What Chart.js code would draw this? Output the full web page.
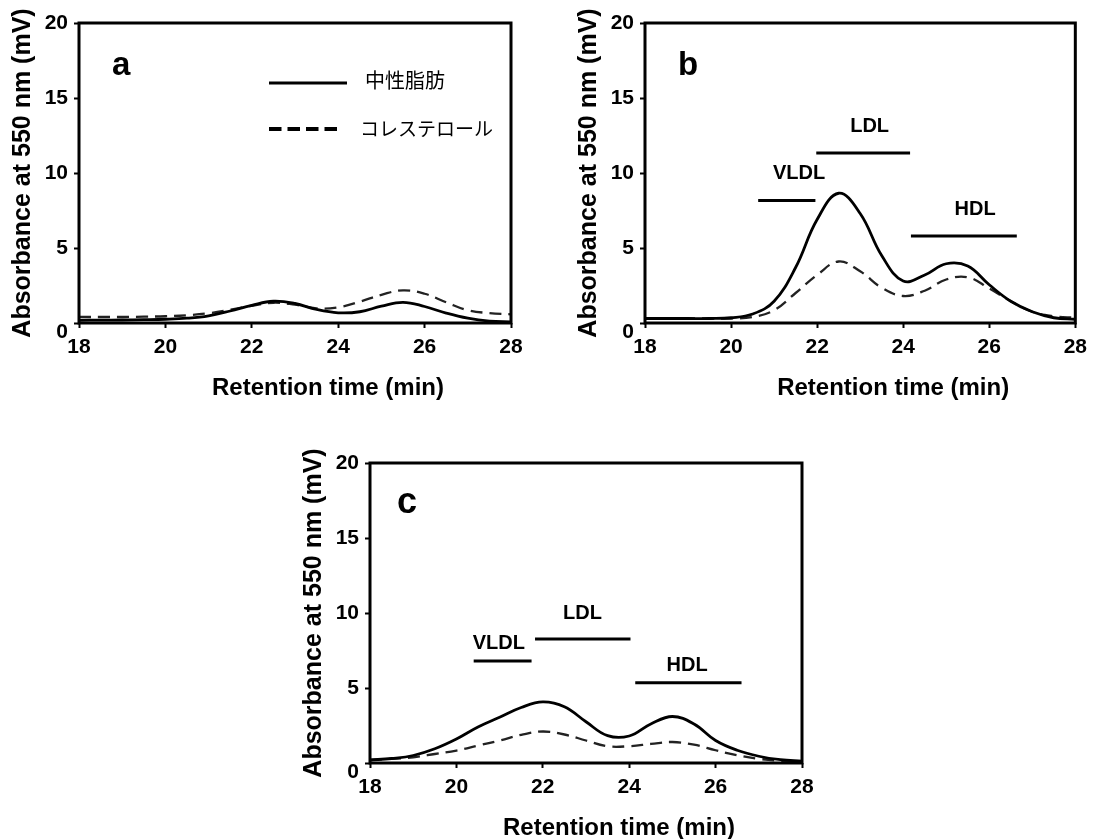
<!DOCTYPE html>
<html>
<head>
	<meta charset="utf-8">
	<title>Retention time chromatograms</title>
	<script src="https://cdn.jsdelivr.net/npm/chart.js@4.4.0/dist/chart.umd.min.js"></script>
	<style>
		html, body { margin: 0; padding: 0; background: #fff; }
		body { width: 1094px; height: 839px; position: relative; overflow: hidden; }
		.panel { position: absolute; }
	</style>
</head>
<body>
	<div class="panel" style="left:0px; top:0px; width:547px; height:420px;"><canvas id="chartA"></canvas></div>
	<div class="panel" style="left:566px; top:0px; width:528px; height:420px;"><canvas id="chartB"></canvas></div>
	<div class="panel" style="left:291px; top:440px; width:547px; height:399px;"><canvas id="chartC"></canvas></div>

	<script>
		// retention time (min)
		var times = [18, 18.5, 19, 19.5, 20, 20.5, 21, 21.5, 22, 22.5, 23, 23.5, 24, 24.5, 25, 25.5, 26, 26.5, 27, 27.5, 28];

		// absorbance (mV) -- 中性脂肪 (solid) and コレステロール (dashed)
		var aTG   = [0.18, 0.19, 0.2, 0.22, 0.25, 0.32, 0.48, 0.8, 1.18, 1.45, 1.3, 0.9, 0.68, 0.75, 1.12, 1.38, 1.1, 0.66, 0.32, 0.13, 0.08];
		var aChol = [0.4, 0.4, 0.4, 0.42, 0.45, 0.52, 0.65, 0.88, 1.15, 1.35, 1.22, 0.98, 1.05, 1.42, 1.88, 2.18, 1.95, 1.38, 0.85, 0.66, 0.58];
		var bTG   = [0.3, 0.3, 0.3, 0.3, 0.35, 0.6, 1.45, 3.7, 6.9, 8.65, 7.3, 4.5, 2.8, 3.2, 3.95, 3.8, 2.55, 1.45, 0.75, 0.35, 0.25];
		var bChol = [0.3, 0.3, 0.3, 0.3, 0.3, 0.4, 0.85, 2.0, 3.2, 4.1, 3.45, 2.35, 1.8, 2.15, 2.9, 3.05, 2.3, 1.45, 0.75, 0.45, 0.35];
		var cTG   = [0.2, 0.3, 0.5, 0.95, 1.6, 2.4, 3.05, 3.7, 4.07, 3.75, 2.75, 1.82, 1.8, 2.6, 3.1, 2.6, 1.5, 0.85, 0.45, 0.22, 0.12];
		var cChol = [0.2, 0.28, 0.38, 0.6, 0.83, 1.16, 1.5, 1.88, 2.1, 1.9, 1.5, 1.12, 1.12, 1.27, 1.4, 1.22, 0.85, 0.52, 0.28, 0.15, 0.1];

		var seriesNames = ['中性脂肪', 'コレステロール'];
		var yTicks = [0, 5, 10, 15, 20];
		var xTicks = [18, 20, 22, 24, 26, 28];

		// lipoprotein fractions: start / end time, bar level, label position
		var bandNames   = ['VLDL', 'LDL', 'HDL'];
		var bBandStart  = [20.63, 21.98, 24.18];
		var bBandEnd    = [21.96, 24.16, 26.64];
		var bBandLevel  = [8.17, 11.34, 5.8];
		var bLabelTime  = [21.58, 23.22, 25.67];
		var bLabelLevel = [9.96, 13.1, 7.54];
		var cBandStart  = [20.4, 21.82, 24.14];
		var cBandEnd    = [21.74, 24.03, 26.6];
		var cBandLevel  = [6.8, 8.26, 5.35];
		var cLabelTime  = [20.98, 22.92, 25.34];
		var cLabelLevel = [7.99, 9.96, 6.53];

		var FONT = '"Liberation Sans", Arial, sans-serif';
		var CJK = '"Noto Sans CJK JP", sans-serif';

		Chart.defaults.font.family = FONT;
		Chart.defaults.color = '#000';

		function pts(vals) {
			return times.map(function(t, i) { return {x: t, y: vals[i]}; });
		}

		// frame, x title, panel letter, fraction bars and the legend of panel a
		var decor = {
			id: 'decor',
			afterDraw: function(chart, args, o) {
				var ctx = chart.ctx, a = chart.chartArea;
				var xs = chart.scales.x, ys = chart.scales.y;
				ctx.save();
				ctx.strokeStyle = '#000';
				ctx.fillStyle = '#000';
				ctx.lineWidth = 3;
				ctx.strokeRect(a.left, a.top, a.right - a.left, a.bottom - a.top);

				ctx.font = 'bold 24px ' + FONT;
				ctx.textAlign = 'center';
				ctx.textBaseline = 'middle';
				ctx.fillText('Retention time (min)', (a.left + a.right) / 2 + 33, a.bottom + 65);

				ctx.font = 'bold ' + o.letterSize + 'px ' + FONT;
				ctx.textAlign = 'left';
				ctx.textBaseline = 'alphabetic';
				ctx.fillText(o.letter, a.left + o.letterDx, a.top + o.letterDy);

				if (o.bands) {
					var bd = o.bands;
					ctx.lineWidth = 3;
					ctx.font = 'bold 20px ' + FONT;
					ctx.textAlign = 'center';
					ctx.textBaseline = 'middle';
					for (var i = 0; i < bandNames.length; i++) {
						var yy = ys.getPixelForValue(bd.level[i]);
						ctx.beginPath();
						ctx.moveTo(xs.getPixelForValue(bd.start[i]), yy);
						ctx.lineTo(xs.getPixelForValue(bd.end[i]), yy);
						ctx.stroke();
						ctx.fillText(bandNames[i], xs.getPixelForValue(bd.labelX[i]), ys.getPixelForValue(bd.labelY[i]));
					}
				}

				if (o.legend) {
					var ds = chart.data.datasets;
					ctx.textAlign = 'left';
					ctx.textBaseline = 'middle';
					ctx.lineWidth = 3;
					ctx.beginPath();
					ctx.moveTo(a.left + 190, a.top + 60);
					ctx.lineTo(a.left + 268, a.top + 60);
					ctx.stroke();
					ctx.font = '20px ' + CJK;
					ctx.fillText(ds[0].label, a.left + 286, a.top + 57);

					ctx.lineWidth = 4;
					ctx.setLineDash([12.5, 6]);
					ctx.beginPath();
					ctx.moveTo(a.left + 190, a.top + 106);
					ctx.lineTo(a.left + 262, a.top + 106);
					ctx.stroke();
					ctx.setLineDash([]);
					ctx.font = '19px ' + CJK;
					ctx.fillText(ds[1].label, a.left + 281, a.top + 106);
				}
				ctx.restore();
			}
		};

		function makeChart(id, tg, chol, rightPad, axisH, decorOpts) {
			var ctx = document.getElementById(id).getContext('2d');
			return new Chart(ctx, {
				type: 'line',
				data: {
					datasets: [{
						label: seriesNames[0],
						data: pts(tg),
						borderColor: '#000',
						borderWidth: 2.8,
						pointRadius: 0,
						tension: 0.4
					}, {
						label: seriesNames[1],
						data: pts(chol),
						borderColor: '#222',
						borderWidth: 2.3,
						borderDash: [12, 7],
						pointRadius: 0,
						tension: 0.4
					}]
				},
				options: {
					responsive: true,
					maintainAspectRatio: false,
					animation: false,
					devicePixelRatio: 1,
					layout: { padding: { left: 0, top: 23, right: rightPad, bottom: 0 } },
					scales: {
						x: {
							type: 'linear',
							min: 18,
							max: 28,
							afterBuildTicks: function(s) { s.ticks = xTicks.map(function(v) { return {value: v}; }); },
							afterFit: function(s) { s.height = axisH; },
							border: { display: false },
							grid: { drawOnChartArea: false, drawTicks: true, tickLength: 5, tickColor: '#000', tickWidth: 2 },
							ticks: { font: { size: 21, weight: 'bold' }, padding: 7, maxRotation: 0 }
						},
						y: {
							min: 0,
							max: 20,
							afterBuildTicks: function(s) { s.ticks = yTicks.map(function(v) { return {value: v}; }); },
							afterFit: function(s) { s.width = 79; },
							border: { display: false },
							grid: { drawOnChartArea: false, drawTicks: true, tickLength: 5, tickColor: '#000', tickWidth: 2 },
							ticks: {
								font: { size: 21, weight: 'bold', lineHeight: 0.9 },
								padding: 6,
								callback: function(v) { return v === 0 ? ['', '0'] : String(v); }
							},
							title: {
								display: true,
								text: 'Absorbance at 550 nm (mV)',
								font: { size: 25, weight: 'bold', lineHeight: 1.2 },
								padding: { top: 8, bottom: 0 }
							}
						}
					},
					plugins: {
						legend: { display: false },
						tooltip: { enabled: false },
						decor: decorOpts
					}
				},
				plugins: [decor]
			});
		}

		makeChart('chartA', aTG, aChol, 36, 97, {
			letter: 'a', letterSize: 33, letterDx: 33, letterDy: 52, legend: true
		});
		makeChart('chartB', bTG, bChol, 17, 97, {
			letter: 'b', letterSize: 33, letterDx: 33, letterDy: 52,
			bands: { start: bBandStart, end: bBandEnd, level: bBandLevel, labelX: bLabelTime, labelY: bLabelLevel }
		});
		makeChart('chartC', cTG, cChol, 36, 76, {
			letter: 'c', letterSize: 36, letterDx: 27, letterDy: 50,
			bands: { start: cBandStart, end: cBandEnd, level: cBandLevel, labelX: cLabelTime, labelY: cLabelLevel }
		});
	</script>
</body>
</html>
